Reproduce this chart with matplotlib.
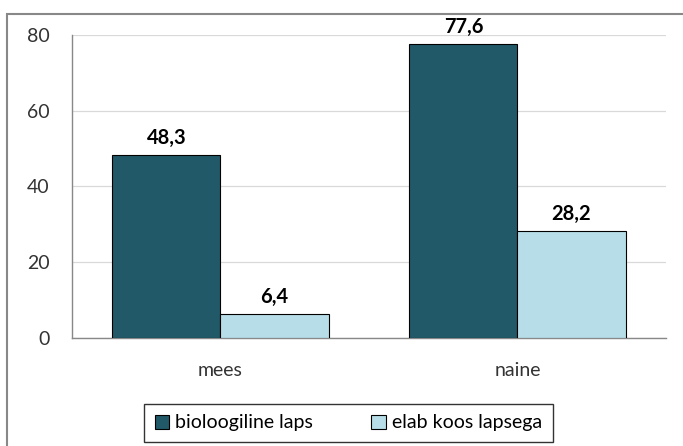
import numpy as np
import matplotlib
matplotlib.use("Agg")
import matplotlib.pyplot as plt
from matplotlib.patches import Rectangle

plt.rcParams['font.family'] = ['Lato', 'DejaVu Sans']

categories = ['mees', 'naine']
series_names = ['bioloogiline laps', 'elab koos lapsega']
bio_values = [48.3, 77.6]
elab_values = [6.4, 28.2]
y_ticks = [0, 20, 40, 60, 80]

dark = '#215968'
light = '#B7DEE8'

fig = plt.figure(figsize=(6.83, 4.46), dpi=100)
ax = fig.add_axes([0.1054, 0.2422, 0.8696, 0.6793])

x = np.arange(len(categories))
w = 0.364
b1 = ax.bar(x - w / 2, bio_values, w, color=dark, edgecolor='black', linewidth=0.8,
            label=series_names[0], zorder=3)
b2 = ax.bar(x + w / 2, elab_values, w, color=light, edgecolor='black', linewidth=0.8,
            label=series_names[1], zorder=3)

for bars, vals in ((b1, bio_values), (b2, elab_values)):
    for rect, v in zip(bars, vals):
        ax.annotate(f'{v:.1f}'.replace('.', ','),
                    xy=(rect.get_x() + rect.get_width() / 2, rect.get_height()),
                    xytext=(0, 5), textcoords='offset points', ha='center', va='bottom',
                    fontsize=14.5, fontweight='bold')

ax.set_xlim(-0.5, 1.5)
ax.set_ylim(0, 80)
ax.set_yticks(y_ticks)
ax.set_xticks(x)
ax.set_xticklabels(categories)
ax.tick_params(axis='both', length=0, labelsize=14, colors='#333333')
ax.tick_params(axis='y', pad=16)
ax.tick_params(axis='x', pad=17)
ax.yaxis.grid(True, color='#d9d9d9', linewidth=0.9, zorder=0)
for s in ('top', 'right'):
    ax.spines[s].set_visible(False)
for s in ('left', 'bottom'):
    ax.spines[s].set_color('#888888')
    ax.spines[s].set_linewidth(1.0)

leg = fig.legend(handles=[b1, b2], loc='center', bbox_to_anchor=(0.510, 0.0516),
                 ncol=2, fontsize=14, frameon=True, fancybox=False,
                 handlelength=0.75, handleheight=0.75, handletextpad=0.3,
                 columnspacing=3.0, borderpad=0.55, borderaxespad=0)
leg.get_frame().set_edgecolor('black')
leg.get_frame().set_linewidth(1.0)

fig.patches.append(Rectangle((7 / 683, -0.05), 1.1, 0.05 + (446 - 14) / 446,
                             transform=fig.transFigure, fill=False,
                             edgecolor='#888888', linewidth=1.5))

fig.savefig('out.png', dpi=100)
